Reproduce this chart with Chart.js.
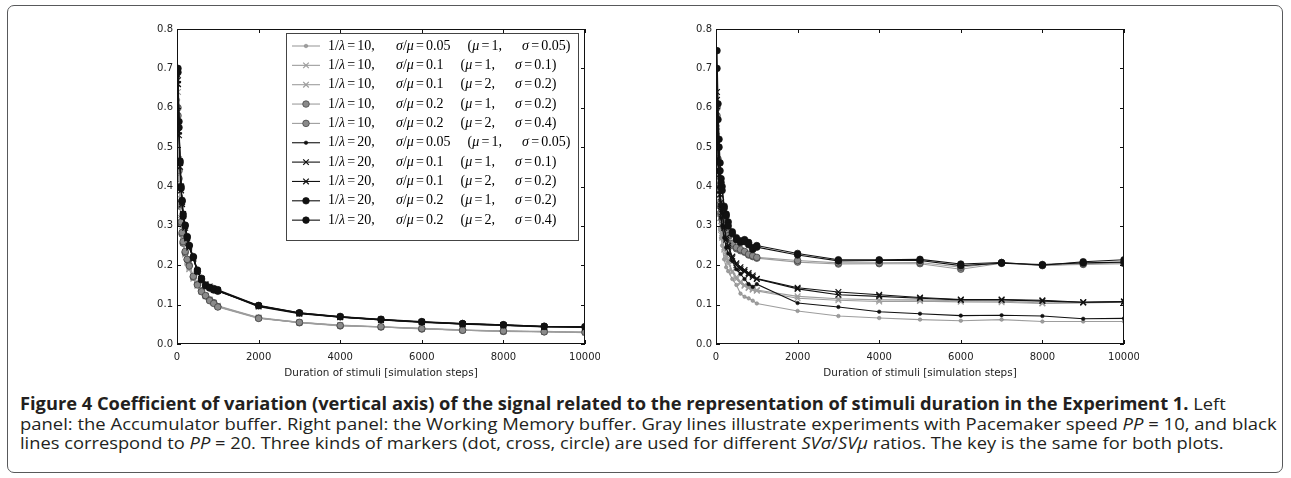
<!DOCTYPE html>
<html>
<head>
<meta charset="utf-8">
<script src="https://cdn.jsdelivr.net/npm/chart.js@4.4.1/dist/chart.umd.min.js"></script>
<style>
  html, body { margin: 0; padding: 0; background: #fff; }
  body { width: 1291px; height: 478px; position: relative; overflow: hidden; }
  #frame { position: absolute; left: 7px; top: 5px; width: 1276px; height: 468px;
           border: 1.5px solid #58595b; border-radius: 7px; box-sizing: border-box; }
  .panel { position: absolute; top: 0; }
  .cap { position: absolute; left: 20px; white-space: nowrap; font-family: "Open Sans", sans-serif;
         font-size: 17px; line-height: 20px; color: #231f20; transform-origin: 0 50%; }
  .cap b { font-weight: 700; }
</style>
</head>
<body>
<div id="frame"></div>
<canvas id="leftChart" class="panel" width="480" height="380" style="left:120px"></canvas>
<canvas id="rightChart" class="panel" width="480" height="380" style="left:659px"></canvas>

<div class="cap" id="cap1" style="top:394px"><b>Figure 4 Coefficient of variation (vertical axis) of the signal related to the representation of stimuli duration in the Experiment 1.</b> Left</div>
<div class="cap" id="cap2" style="top:413.5px">panel: the Accumulator buffer. Right panel: the Working Memory buffer. Gray lines illustrate experiments with Pacemaker speed <i>PP</i> = 10, and black</div>
<div class="cap" id="cap3" style="top:433px">lines correspond to <i>PP</i> = 20. Three kinds of markers (dot, cross, circle) are used for different <i>SVσ</i>/<i>SVμ</i> ratios. The key is the same for both plots.</div>

<script>
// ─── DATA ─────────────────────────────────────────────────────────────────────
const durations = [25, 50, 75, 100, 125, 150, 200, 250, 300, 400, 500, 600, 700, 800, 900, 1000,
                   2000, 3000, 4000, 5000, 6000, 7000, 8000, 9000, 10000];
const xTicks = [0, 2000, 4000, 6000, 8000, 10000];
const yTicks = [0, 0.1, 0.2, 0.3, 0.4, 0.5, 0.6, 0.7, 0.8];

// legend key (same for both panels)
const invLambda = [10, 10, 10, 10, 10, 20, 20, 20, 20, 20];
const cvRatio   = ['0.05', '0.1', '0.1', '0.2', '0.2', '0.05', '0.1', '0.1', '0.2', '0.2'];
const muVals    = [1, 1, 2, 1, 2, 1, 1, 2, 1, 2];
const sigmaVals = ['0.05', '0.1', '0.2', '0.2', '0.4', '0.05', '0.1', '0.2', '0.2', '0.4'];
const markers   = ['dot', 'cross', 'cross', 'circle', 'circle', 'dot', 'cross', 'cross', 'circle', 'circle'];

// left panel: Accumulator buffer
const accum = [
  [0.62, 0.44, 0.36, 0.31, 0.285, 0.26, 0.228, 0.208, 0.192, 0.168, 0.15, 0.134, 0.122, 0.112, 0.104, 0.096, 0.066, 0.055, 0.047, 0.043, 0.039, 0.035, 0.033, 0.031, 0.030],
  [0.66, 0.47, 0.37, 0.32, 0.287, 0.262, 0.23, 0.21, 0.194, 0.169, 0.151, 0.135, 0.123, 0.113, 0.105, 0.097, 0.067, 0.055, 0.048, 0.044, 0.040, 0.036, 0.033, 0.032, 0.030],
  [0.64, 0.45, 0.36, 0.315, 0.282, 0.258, 0.227, 0.207, 0.19, 0.166, 0.148, 0.133, 0.121, 0.111, 0.104, 0.095, 0.066, 0.054, 0.047, 0.043, 0.039, 0.035, 0.032, 0.031, 0.029],
  [0.58, 0.42, 0.35, 0.305, 0.279, 0.256, 0.232, 0.214, 0.200, 0.170, 0.152, 0.135, 0.122, 0.112, 0.105, 0.095, 0.066, 0.054, 0.046, 0.043, 0.038, 0.035, 0.032, 0.031, 0.030],
  [0.60, 0.44, 0.355, 0.31, 0.283, 0.26, 0.235, 0.215, 0.198, 0.172, 0.150, 0.133, 0.123, 0.110, 0.103, 0.094, 0.065, 0.055, 0.047, 0.044, 0.039, 0.035, 0.033, 0.031, 0.030],
  [0.68, 0.55, 0.46, 0.40, 0.36, 0.33, 0.30, 0.27, 0.247, 0.218, 0.187, 0.166, 0.153, 0.145, 0.139, 0.136, 0.096, 0.078, 0.068, 0.061, 0.055, 0.051, 0.048, 0.044, 0.043],
  [0.66, 0.53, 0.45, 0.39, 0.355, 0.33, 0.295, 0.268, 0.245, 0.216, 0.185, 0.165, 0.152, 0.143, 0.138, 0.135, 0.095, 0.077, 0.068, 0.061, 0.056, 0.050, 0.047, 0.043, 0.042],
  [0.67, 0.54, 0.46, 0.40, 0.36, 0.325, 0.30, 0.27, 0.248, 0.219, 0.186, 0.166, 0.150, 0.146, 0.140, 0.136, 0.097, 0.078, 0.069, 0.062, 0.056, 0.051, 0.048, 0.044, 0.043],
  [0.70, 0.565, 0.465, 0.40, 0.362, 0.324, 0.30, 0.273, 0.25, 0.22, 0.184, 0.163, 0.148, 0.144, 0.141, 0.138, 0.098, 0.079, 0.070, 0.063, 0.057, 0.052, 0.049, 0.045, 0.044],
  [0.69, 0.55, 0.46, 0.395, 0.365, 0.33, 0.302, 0.27, 0.25, 0.222, 0.188, 0.167, 0.150, 0.142, 0.137, 0.134, 0.097, 0.079, 0.069, 0.062, 0.056, 0.052, 0.049, 0.045, 0.044]
];

// right panel: Working Memory buffer
const memory = [
  [0.50, 0.39, 0.33, 0.29, 0.27, 0.25, 0.215, 0.195, 0.185, 0.165, 0.150, 0.128, 0.120, 0.116, 0.110, 0.103, 0.084, 0.071, 0.066, 0.062, 0.059, 0.062, 0.057, 0.057, 0.057],
  [0.56, 0.44, 0.37, 0.33, 0.30, 0.275, 0.245, 0.225, 0.21, 0.185, 0.170, 0.158, 0.150, 0.144, 0.140, 0.137, 0.121, 0.115, 0.112, 0.112, 0.110, 0.109, 0.104, 0.106, 0.108],
  [0.54, 0.43, 0.36, 0.32, 0.29, 0.27, 0.24, 0.22, 0.205, 0.182, 0.165, 0.155, 0.148, 0.142, 0.138, 0.135, 0.116, 0.111, 0.108, 0.109, 0.107, 0.106, 0.103, 0.104, 0.106],
  [0.58, 0.46, 0.39, 0.35, 0.33, 0.315, 0.295, 0.28, 0.27, 0.25, 0.242, 0.237, 0.233, 0.226, 0.222, 0.218, 0.208, 0.203, 0.204, 0.204, 0.190, 0.205, 0.200, 0.202, 0.204],
  [0.60, 0.47, 0.40, 0.355, 0.335, 0.32, 0.30, 0.285, 0.275, 0.255, 0.245, 0.24, 0.235, 0.228, 0.224, 0.220, 0.212, 0.206, 0.206, 0.207, 0.195, 0.207, 0.199, 0.204, 0.206],
  [0.60, 0.47, 0.40, 0.35, 0.32, 0.30, 0.27, 0.245, 0.23, 0.21, 0.19, 0.178, 0.165, 0.152, 0.145, 0.152, 0.104, 0.094, 0.082, 0.077, 0.072, 0.073, 0.071, 0.064, 0.065],
  [0.64, 0.51, 0.44, 0.39, 0.36, 0.335, 0.30, 0.27, 0.25, 0.222, 0.205, 0.195, 0.188, 0.180, 0.174, 0.166, 0.143, 0.132, 0.125, 0.118, 0.113, 0.113, 0.111, 0.106, 0.108],
  [0.62, 0.50, 0.43, 0.38, 0.35, 0.33, 0.295, 0.265, 0.245, 0.218, 0.20, 0.19, 0.184, 0.176, 0.170, 0.165, 0.140, 0.125, 0.121, 0.116, 0.112, 0.112, 0.109, 0.106, 0.107],
  [0.745, 0.61, 0.52, 0.46, 0.42, 0.40, 0.35, 0.33, 0.31, 0.285, 0.27, 0.262, 0.265, 0.258, 0.245, 0.250, 0.230, 0.214, 0.214, 0.215, 0.203, 0.207, 0.200, 0.209, 0.214],
  [0.70, 0.57, 0.50, 0.44, 0.41, 0.39, 0.345, 0.325, 0.30, 0.28, 0.265, 0.258, 0.26, 0.252, 0.240, 0.246, 0.226, 0.211, 0.212, 0.212, 0.199, 0.205, 0.202, 0.206, 0.208]
];

// ─── STYLE ────────────────────────────────────────────────────────────────────
const GRAY = '#9d9d9d', GRAY_FILL = '#8a8a8a', BLACK = '#111111';
const TICK_FONT = { family: "'DejaVu Sans', sans-serif", size: 10 };
const TITLE_FONT = { family: "'DejaVu Sans', sans-serif", size: 10.4 };

function seriesStyle(i) {
  const dark = invLambda[i] === 20;
  const col = dark ? BLACK : GRAY;
  const m = markers[i];
  const s = { borderColor: col, borderWidth: 1.1, backgroundColor: col, pointHoverRadius: 0 };
  if (m === 'dot') {
    Object.assign(s, { pointStyle: 'circle', pointRadius: 1.8, pointBackgroundColor: col,
      pointBorderColor: dark ? BLACK : '#808080', pointBorderWidth: 0.5 });
  } else if (m === 'cross') {
    Object.assign(s, { pointStyle: 'crossRot', pointRadius: 4, pointBorderColor: col, pointBorderWidth: 1.2 });
  } else {
    Object.assign(s, { pointStyle: 'circle', pointRadius: 3.3, pointBackgroundColor: dark ? BLACK : GRAY_FILL,
      pointBorderColor: dark ? BLACK : '#3c3c3c', pointBorderWidth: 0.7 });
  }
  return s;
}

function drawMarker(ctx, m, dark, x, y) {
  const col = dark ? BLACK : GRAY;
  ctx.save();
  if (m === 'cross') {
    ctx.strokeStyle = col; ctx.lineWidth = 1.2;
    ctx.beginPath();
    ctx.moveTo(x - 2.8, y - 2.8); ctx.lineTo(x + 2.8, y + 2.8);
    ctx.moveTo(x + 2.8, y - 2.8); ctx.lineTo(x - 2.8, y + 2.8);
    ctx.stroke();
  } else {
    const r = m === 'dot' ? 1.8 : 3.3;
    ctx.fillStyle = m === 'circle' && !dark ? GRAY_FILL : col;
    ctx.strokeStyle = dark ? BLACK : (m === 'circle' ? '#3c3c3c' : '#808080');
    ctx.lineWidth = m === 'dot' ? 0.5 : 0.7;
    ctx.beginPath(); ctx.arc(x, y, r, 0, Math.PI * 2); ctx.fill(); ctx.stroke();
  }
  ctx.restore();
}

// ─── PLUGINS ──────────────────────────────────────────────────────────────────
// matplotlib-like box with inward ticks on all four sides
const frameTicks = {
  id: 'frameTicks',
  afterDatasetsDraw(chart) {
    const { ctx, chartArea: a, scales: { x, y } } = chart;
    ctx.save();
    ctx.strokeStyle = '#111'; ctx.lineWidth = 1;
    ctx.strokeRect(a.left + 0.5, a.top + 0.5, a.right - a.left - 1, a.bottom - a.top - 1);
    ctx.beginPath();
    xTicks.forEach(v => {
      const p = Math.round(x.getPixelForValue(v)) + 0.5;
      ctx.moveTo(p, a.bottom); ctx.lineTo(p, a.bottom - 4);
      ctx.moveTo(p, a.top); ctx.lineTo(p, a.top + 4);
    });
    yTicks.forEach(v => {
      const p = Math.round(y.getPixelForValue(v)) + 0.5;
      ctx.moveTo(a.left, p); ctx.lineTo(a.left + 4, p);
      ctx.moveTo(a.right, p); ctx.lineTo(a.right - 4, p);
    });
    ctx.stroke();
    ctx.restore();
  }
};

// draws "1/λ=10," style text, greek letters in italic
function mathText(ctx, str, x, y) {
  let cx = x;
  for (const ch of str) {
    const greek = 'λσμ'.includes(ch);
    ctx.font = (greek ? 'italic ' : '') + "14px 'Liberation Serif', serif";
    if (ch === '=') cx += 2.2;
    ctx.fillText(ch, cx, y);
    cx += ctx.measureText(ch).width;
    if (ch === '=') cx += 2.2;
  }
  return cx - x;
}

const mathLegend = {
  id: 'mathLegend',
  afterDraw(chart) {
    const { ctx } = chart;
    const bx = 166, by = 33, bw = 292, bh = 207, rowH = 19.35, y0 = 46;
    ctx.save();
    ctx.fillStyle = '#fff';
    ctx.fillRect(bx, by, bw, bh);
    ctx.strokeStyle = '#444'; ctx.lineWidth = 1;
    ctx.strokeRect(bx + 0.5, by + 0.5, bw, bh);
    invLambda.forEach((lam, i) => {
      const y = y0 + i * rowH;
      const dark = lam === 20;
      ctx.strokeStyle = dark ? BLACK : GRAY; ctx.lineWidth = 1.1;
      ctx.beginPath(); ctx.moveTo(172, y); ctx.lineTo(200, y); ctx.stroke();
      drawMarker(ctx, markers[i], dark, 186, y);
      ctx.fillStyle = '#000'; ctx.textBaseline = 'middle';
      const p1 = '1/λ=' + lam + ',';
      const p2 = 'σ/μ=' + cvRatio[i];
      const p3 = '(μ=' + muVals[i] + ',';
      const p4 = 'σ=' + sigmaVals[i] + ')';
      mathText(ctx, p1, 208, y);
      const w2 = mathText(ctx, p2, 276, y);
      const x3 = 276 + w2 + 17;
      const w3 = mathText(ctx, p3, x3, y);
      mathText(ctx, p4, x3 + w3 + 20, y);
    });
    ctx.restore();
  }
};

// ─── CHARTS ───────────────────────────────────────────────────────────────────
function makeChart(id, values, extraPlugins) {
  const datasets = values.map((vals, i) => ({
    label: '1/λ=' + invLambda[i] + ', σ/μ=' + cvRatio[i],
    data: durations.map((d, k) => ({ x: d, y: vals[k] })),
    order: 10 - i,
    ...seriesStyle(i)
  }));
  return new Chart(document.getElementById(id), {
    type: 'line',
    data: { datasets },
    options: {
      responsive: false,
      animation: false,
      layout: { padding: { top: 29, right: 15, left: 0, bottom: 0 } },
      plugins: { legend: { display: false }, tooltip: { enabled: false } },
      elements: { line: { tension: 0 } },
      scales: {
        x: {
          type: 'linear', min: 0, max: 10000,
          afterBuildTicks: s => { s.ticks = xTicks.map(v => ({ value: v })); },
          afterFit: s => { s.height = 36; s.paddingLeft = 0; s.paddingRight = 0; },
          grid: { display: false, drawTicks: false },
          border: { display: false },
          ticks: { font: TICK_FONT, color: '#222', padding: 7, maxRotation: 0, autoSkip: false,
                   callback: v => String(v) },
          title: { display: true, text: 'Duration of stimuli [simulation steps]', font: TITLE_FONT, color: '#222',
                   padding: { top: 2, bottom: 0 } }
        },
        y: {
          min: 0, max: 0.8,
          afterBuildTicks: s => { s.ticks = yTicks.map(v => ({ value: v })); },
          afterFit: s => { s.width = 57; s.paddingTop = 0; s.paddingBottom = 0; },
          grid: { display: false, drawTicks: false },
          border: { display: false },
          ticks: { font: TICK_FONT, color: '#222', padding: 4, callback: v => v.toFixed(1) }
        }
      }
    },
    plugins: [frameTicks, ...extraPlugins]
  });
}

makeChart('leftChart', accum, [mathLegend]);
makeChart('rightChart', memory, []);

// ─── CAPTION: squeeze each line to the reference line width ───────────────────
const capWidths = { cap1: 1206, cap2: 1257, cap3: 1204 };
Object.entries(capWidths).forEach(([id, w]) => {
  const el = document.getElementById(id);
  el.style.transform = 'scaleX(' + (w / el.scrollWidth) + ')';
});
</script>
</body>
</html>
